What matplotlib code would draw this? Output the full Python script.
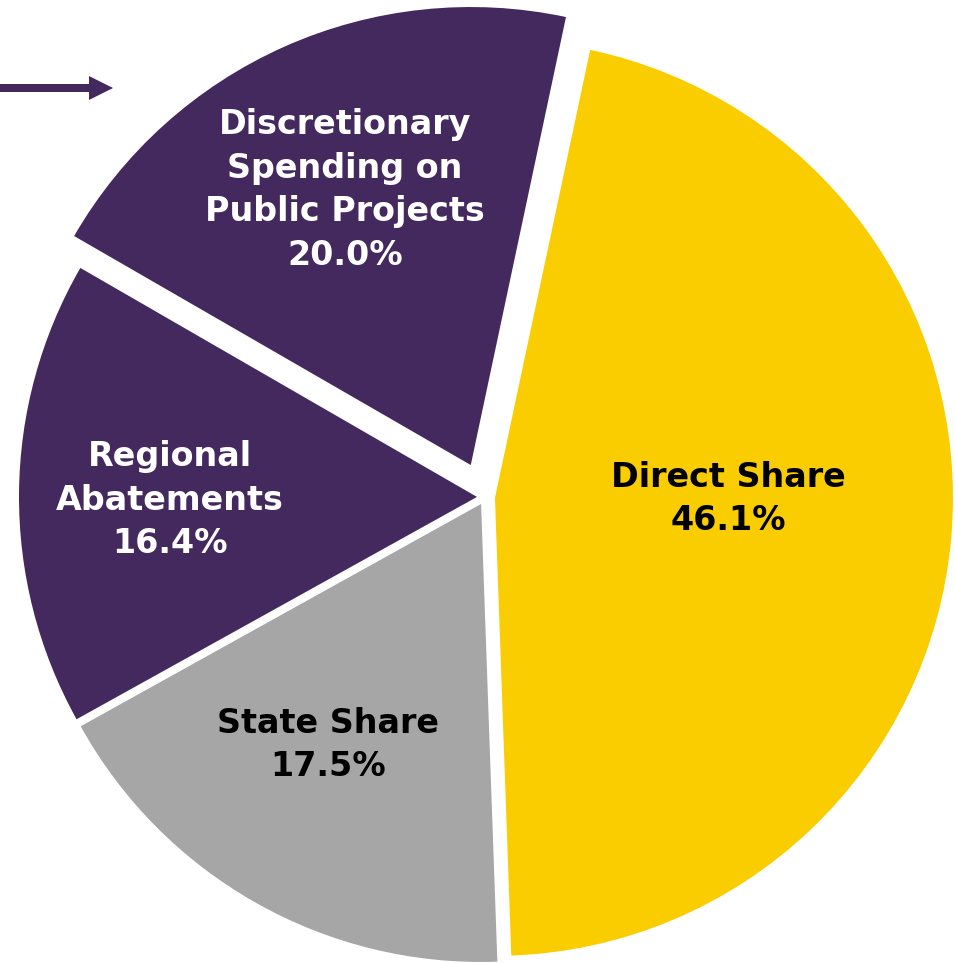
import matplotlib
matplotlib.use("Agg")
import matplotlib.pyplot as plt

# ---- data ----
categories = ["Direct Share", "State Share", "Regional Abatements",
              "Discretionary Spending on Public Projects"]
label_texts = ["Direct Share", "State Share", "Regional\nAbatements",
               "Discretionary\nSpending on\nPublic Projects"]
shares = [46.1, 17.5, 16.4, 20.0]

# ---- style ----
colors = ["#F9CD00", "#A6A6A6", "#43295E", "#43295E"]
text_colors = ["black", "black", "white", "white"]
explode = [10, 8, 8, 35]           # in pixel units (data coords = pixels)
label_pos = [(728, 963 - 499), (328, 963 - 745), (170, 963 - 500), (345, 963 - 190)]

W, H = 955, 963
fig = plt.figure(figsize=(W / 100, H / 100), dpi=100)
ax = fig.add_axes([0, 0, 1, 1])

wedges, _ = ax.pie(shares, colors=colors, explode=explode, startangle=78,
                   counterclock=False, radius=458, center=(485, H - 497),
                   frame=False, wedgeprops=dict(linewidth=0))

for txt, val, pos, tc in zip(label_texts, shares, label_pos, text_colors):
    ax.text(pos[0], pos[1], f"{txt}\n{val:.1f}%", ha="center", va="center",
            color=tc, fontsize=24, fontweight="bold", family="DejaVu Sans",
            linespacing=1.42)

# arrow at top-left
ax.arrow(-5, H - 88, 118, 0, width=8, head_width=24, head_length=24,
         length_includes_head=True, color="#43295E", linewidth=0)

ax.set_xlim(0, W)
ax.set_ylim(0, H)
ax.set_aspect("equal")
ax.axis("off")

fig.savefig("out.png", dpi=100, facecolor="white")
